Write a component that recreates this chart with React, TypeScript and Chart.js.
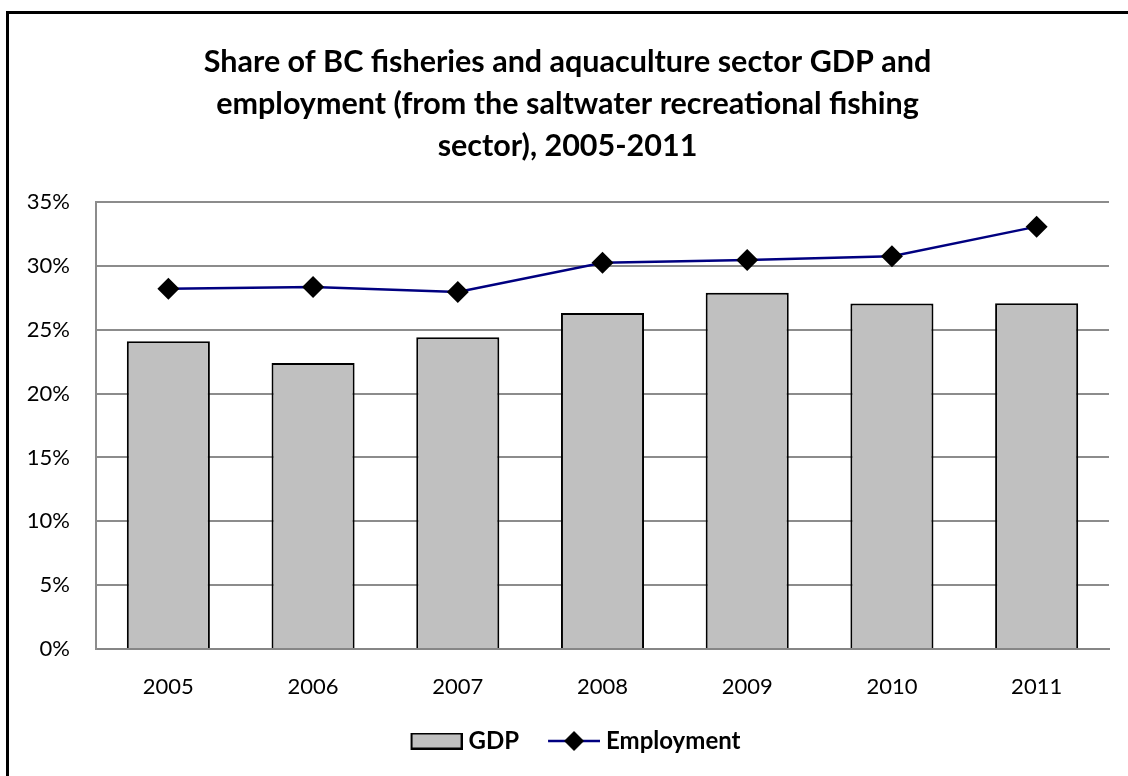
import React, { useEffect, useRef } from "react";
import { Chart, registerables } from "chart.js";

Chart.register(...registerables);

const categories = ["2005", "2006", "2007", "2008", "2009", "2010", "2011"];
const gdpValues = [24.1, 22.4, 24.4, 26.3, 27.9, 27.05, 27.07];
const employmentValues = [28.2, 28.35, 27.95, 30.25, 30.45, 30.75, 33.07];
const yTicks = [0, 5, 10, 15, 20, 25, 30, 35];
const titleLines = [
  "Share of BC fisheries and aquaculture sector GDP and",
  "employment (from the saltwater recreational fishing",
  "sector), 2005-2011",
];

const FONT = "Lato, 'Open Sans', sans-serif";

function makeGdpIcon(): HTMLCanvasElement {
  const c = document.createElement("canvas");
  c.width = 64;
  c.height = 17;
  const ctx = c.getContext("2d")!;
  ctx.fillStyle = "#c0c0c0";
  ctx.fillRect(13, 1, 50, 15);
  ctx.strokeStyle = "#000";
  ctx.lineWidth = 2;
  ctx.strokeRect(13, 1, 50, 15);
  return c;
}

function makeEmpIcon(): HTMLCanvasElement {
  const c = document.createElement("canvas");
  c.width = 64;
  c.height = 22;
  const ctx = c.getContext("2d")!;
  ctx.strokeStyle = "#000080";
  ctx.lineWidth = 2.5;
  ctx.beginPath();
  ctx.moveTo(12, 11);
  ctx.lineTo(64, 11);
  ctx.stroke();
  ctx.fillStyle = "#000";
  ctx.beginPath();
  ctx.moveTo(38, 1);
  ctx.lineTo(48, 11);
  ctx.lineTo(38, 21);
  ctx.lineTo(28, 11);
  ctx.closePath();
  ctx.fill();
  return c;
}

const legendShift = {
  id: "legendShift",
  afterLayout(chart: any) {
    if (chart.legend) {
      chart.legend.left += 5;
      chart.legend.right += 5;
    }
  },
};

export default function App() {
  const ref = useRef<HTMLCanvasElement | null>(null);

  useEffect(() => {
    if (!ref.current) return;
    const gdpIcon = makeGdpIcon();
    const empIcon = makeEmpIcon();
    const chart = new Chart(ref.current, {
      type: "bar",
      data: {
        labels: categories,
        datasets: [
          {
            type: "bar",
            label: "GDP",
            data: gdpValues,
            backgroundColor: "#c0c0c0",
            borderColor: "#000000",
            borderWidth: 2,
            barPercentage: 0.574,
            categoryPercentage: 1,
            order: 1,
          },
          {
            type: "line",
            label: "Employment",
            data: employmentValues,
            borderColor: "#000080",
            borderWidth: 2.5,
            pointStyle: "rectRot",
            pointRadius: 11,
            pointBackgroundColor: "#000",
            pointBorderColor: "#000",
            pointBorderWidth: 0,
            tension: 0,
            order: 0,
          } as any,
        ],
      },
      plugins: [legendShift],
      options: {
        responsive: false,
        animation: false,
        layout: { padding: { left: 14, right: 19, top: 0, bottom: 13 } },
        scales: {
          x: {
            grid: { display: false, drawTicks: false },
            border: { color: "#868686", width: 2 },
            ticks: {
              color: "#000",
              font: { family: FONT, size: 22 },
              padding: 25,
            },
            afterFit: (s: any) => {
              s.height = 57;
            },
          },
          y: {
            min: 0,
            max: 35,
            afterBuildTicks: (axis: any) => {
              axis.ticks = yTicks.map((v) => ({ value: v }));
            },
            grid: { color: "#8c8c8c", lineWidth: 2, drawTicks: false },
            border: { color: "#8c8c8c", width: 2 },
            ticks: {
              color: "#000",
              font: { family: FONT, size: 22 },
              padding: 26,
              callback: (v: any) => `${v}%`,
            },
            afterFit: (s: any) => {
              s.width = 70;
            },
          },
        },
        plugins: {
          title: {
            display: true,
            text: titleLines,
            color: "#000",
            font: { family: FONT, size: 30.5, weight: "bold", lineHeight: 1.377 },
            padding: { top: 26, bottom: 35 },
          },
          legend: {
            position: "bottom",
            labels: {
              usePointStyle: true,
              pointStyleWidth: 52,
              boxHeight: 17,
              padding: 23,
              color: "#000",
              font: { family: FONT, size: 24, weight: "bold" },
              sort: (a: any, b: any) => a.datasetIndex - b.datasetIndex,
              generateLabels: (ch: any) => {
                const items = Chart.defaults.plugins.legend.labels.generateLabels(ch);
                return items.map((it: any) => ({
                  ...it,
                  pointStyle: it.datasetIndex === 0 ? gdpIcon : empIcon,
                  fontColor: "#000",
                }));
              },
            },
          },
          tooltip: { enabled: false },
        },
      },
    });
    return () => chart.destroy();
  }, []);

  return (
    <div
      style={{
        position: "absolute",
        left: 0,
        top: 0,
        width: 1128,
        height: 776,
        overflow: "hidden",
        background: "#fff",
      }}
    >
      <div
        style={{
          position: "absolute",
          left: 6,
          top: 11,
          width: 1300,
          height: 1000,
          border: "3px solid #000",
          boxSizing: "border-box",
        }}
      />
      <canvas
        ref={ref}
        width={1116}
        height={761}
        style={{ position: "absolute", left: 12, top: 15, width: 1116, height: 761 }}
      />
    </div>
  );
}
